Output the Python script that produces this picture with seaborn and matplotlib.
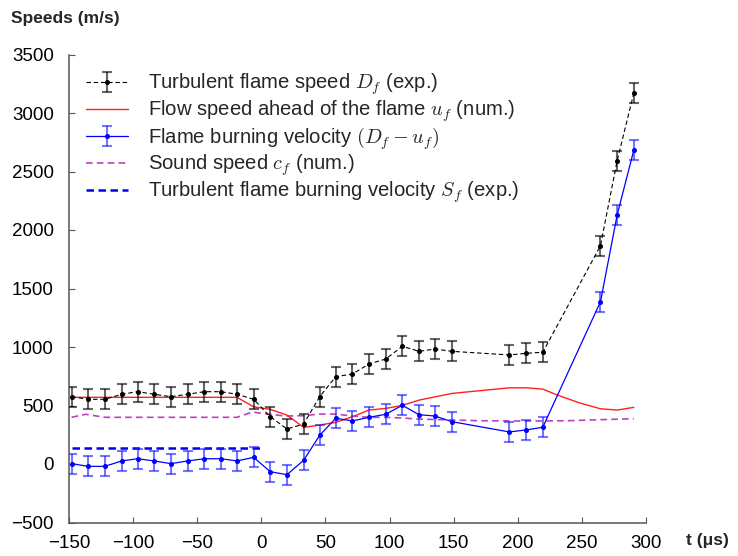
import numpy as np
import pandas as pd
import matplotlib
matplotlib.use("Agg")
import matplotlib.pyplot as plt
import seaborn as sns

# Frame times (microseconds) of the experimental measurements
t_exp = [-148, -135, -122, -109, -96.5, -83.5, -70.5, -57.5, -44.5, -31.5, -19, -6,
         7, 20, 33, 45.5, 58, 71, 84, 97, 110, 123, 135.5, 148.5,
         193.5, 206.5, 219.5, 264.5, 277.5, 290.5]

# Turbulent flame speed D_f (exp.), m/s
flame_speed = [575, 553, 553, 596, 618, 596, 575, 596, 618, 618, 596, 553,
               404, 299, 342, 575, 746, 769, 855, 897, 1006, 963, 983, 963,
               932, 946, 955, 1866, 2592, 3171]
flame_speed_err = 85

# Flame burning velocity (D_f - u_f), m/s
burning_velocity = [3, -20, -20, 26, 45, 26, 3, 26, 45, 45, 26, 57,
                    -66, -91, 32, 245, 391, 368, 399, 425, 502, 421, 410, 362,
                    274, 291, 314, 1387, 2128, 2684]
burning_velocity_err = 85

# Flow speed ahead of the flame u_f (num.)
t_flow = [-148, -135, -122, -109, -96.5, -83.5, -70.5, -57.5, -44.5, -31.5, -19, -6,
          7, 20, 33, 45.5, 58, 71, 84, 97, 110, 123, 135.5, 148.5,
          170, 193.5, 206.5, 219.5, 231, 248, 264.5, 277.5, 290.5]
flow_speed = [570, 570, 570, 570, 570, 570, 570, 570, 570, 570, 570, 489,
              467, 418, 313, 333, 356, 404, 461, 475, 501, 546, 574, 603,
              626, 651, 651, 640, 589, 523, 472, 461, 484]

# Sound speed c_f (num.)
t_sound = [-148, -137, -122, -109, -96.5, -83.5, -70.5, -57.5, -44.5, -31.5, -19, -7,
           6, 19, 33, 45.5, 58, 71, 84, 97, 110, 123, 148.5, 170, 206.5, 240, 264.5, 290.5]
sound_speed = [399, 425, 399, 399, 399, 399, 399, 399, 399, 399, 399, 444,
               425, 410, 413, 427, 427, 410, 399, 399, 393, 384, 376, 370, 367, 370, 379, 387]

# Turbulent flame burning velocity S_f (exp.)
t_sf = [-148, 0]
sf_speed = [140, 140]

x_ticks = [-150, -100, -50, 0, 50, 100, 150, 200, 250, 300]
y_ticks = [-500, 0, 500, 1000, 1500, 2000, 2500, 3000, 3500]

sns.set_style("ticks")
plt.rcParams["font.family"] = ["Liberation Sans", "DejaVu Sans"]
plt.rcParams["mathtext.fontset"] = "cm"
plt.rcParams["axes.unicode_minus"] = True

fig = plt.figure(figsize=(7.38, 5.56), dpi=100)
ax = fig.add_axes([69 / 738, 1 - 522.5 / 556, 577 / 738, 468 / 556])

flow_df = pd.DataFrame({"t": t_flow, "v": flow_speed})
sound_df = pd.DataFrame({"t": t_sound, "v": sound_speed})
sf_df = pd.DataFrame({"t": t_sf, "v": sf_speed})

sns.lineplot(data=sound_df, x="t", y="v", ax=ax, color="#c040c0", lw=1.2,
             linestyle=(0, (4, 2.5)), zorder=2)
sns.lineplot(data=flow_df, x="t", y="v", ax=ax, color="#ff2020", lw=1.0, zorder=3)
sns.lineplot(data=sf_df, x="t", y="v", ax=ax, color="#0000ee", lw=1.8,
             linestyle=(0, (3, 1.8)), zorder=3)
h_sound = ax.lines[0]
h_flow = ax.lines[1]
h_sf = ax.lines[2]

h_df = ax.errorbar(t_exp, flame_speed, yerr=flame_speed_err, color="black",
                   ls=(0, (4, 2.5)), lw=0.8, marker="o", ms=2.6,
                   ecolor=(0, 0, 0, 0.6), elinewidth=1.5, capsize=3.5, capthick=1.5,
                   zorder=4)
h_bv = ax.errorbar(t_exp, burning_velocity, yerr=burning_velocity_err, color="#0000ff",
                   ls="-", lw=0.9, marker="o", ms=2.6,
                   ecolor=(0.1, 0.1, 1.0, 0.6), elinewidth=1.5, capsize=3.5, capthick=1.5,
                   zorder=4)

ax.set_xlim(-150, 300)
ax.set_ylim(-500, 3500)
ax.set_xticks(x_ticks)
ax.set_yticks(y_ticks)
ax.set_xlabel("")
ax.set_ylabel("")
for side in ("top", "right"):
    ax.spines[side].set_visible(False)
for side in ("left", "bottom"):
    ax.spines[side].set_color("#555555")
    ax.spines[side].set_linewidth(1.1)
ax.tick_params(axis="both", direction="in", length=4.5, width=0.8, color="#555555",
               labelsize=13.5, labelcolor="black")
ax.tick_params(axis="y", pad=11)
ax.tick_params(axis="x", pad=9)

fig.text(11 / 738, 1 - 18 / 556, "Speeds (m/s)", fontsize=12.5, fontweight="bold",
         ha="left", va="center")
fig.text(686 / 738, 1 - 541 / 556, "t (μs)", fontsize=12.5, fontweight="bold",
         ha="left", va="center")

handles = [h_df, h_flow, h_bv, h_sound, h_sf]
labels = [r"Turbulent flame speed $D_f$ (exp.)",
          r"Flow speed ahead of the flame $u_f$ (num.)",
          r"Flame burning velocity $(D_f-u_f)$",
          r"Sound speed $c_f$ (num.)",
          r"Turbulent flame burning velocity $S_f$ (exp.)"]
ax.legend(handles, labels, loc="upper left", bbox_to_anchor=(0.03, 0.963),
          frameon=False, fontsize=14.6, borderpad=0, handlelength=2.05,
          handletextpad=0.98, labelspacing=0.05, borderaxespad=0)

fig.savefig("out.png", dpi=100)
